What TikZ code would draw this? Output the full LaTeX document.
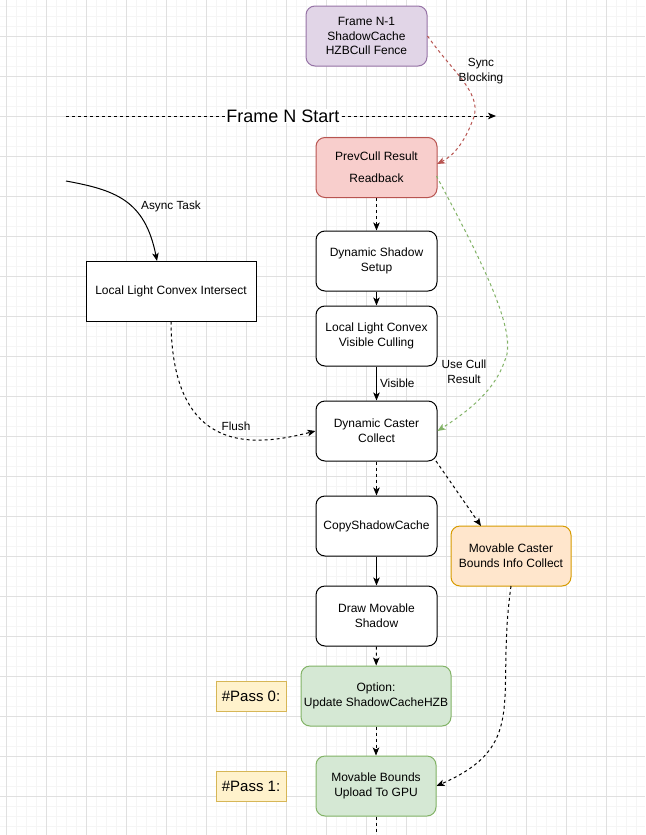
\documentclass[tikz,border=0pt]{standalone}
\usepackage{fontspec}
\setmainfont{Liberation Sans}
\usetikzlibrary{arrows.meta}
\definecolor{gridminor}{HTML}{F5F5F5}
\definecolor{gridmajor}{HTML}{E0E0E0}
\definecolor{purpfill}{HTML}{E1D5E7}
\definecolor{purpline}{HTML}{9673A6}
\definecolor{redfill}{HTML}{F8CECC}
\definecolor{redline}{HTML}{B85450}
\definecolor{greenfill}{HTML}{D5E8D4}
\definecolor{greenline}{HTML}{82B366}
\definecolor{orfill}{HTML}{FFE6CC}
\definecolor{orline}{HTML}{D79B00}
\definecolor{yelfill}{HTML}{FFF2CC}
\definecolor{yelline}{HTML}{D6B656}
\tikzset{
  box/.style={draw, line width=1pt, rounded corners=9pt, minimum width=121pt, minimum height=60pt,
    align=center, inner sep=0pt, font=\fontsize{12}{14.6}\selectfont, fill=white},
  sqbox/.style={box, rounded corners=0pt},
  passbox/.style={draw=yelline, fill=yelfill, line width=1pt, minimum width=70pt, minimum height=30pt,
    inner sep=0pt, font=\fontsize{15}{18}\selectfont},
  lbl/.style={align=center, inner sep=0pt, font=\fontsize{11.8}{15}\selectfont},
  arr/.style={line width=1pt, -{Stealth[length=8pt,width=6.5pt,inset=2pt]}},
  dsh/.style={dash pattern=on 3pt off 3pt},
}
\begin{document}
\begin{tikzpicture}[x=1pt,y=-1pt]
\useasboundingbox (0,0) rectangle (645,835);
\fill[white] (0,0) rectangle (645,835);
% grid
\foreach \x in {6,16,...,645} \draw[gridminor, line width=1pt] (\x,0) -- (\x,835);
\foreach \y in {6,16,...,835} \draw[gridminor, line width=1pt] (0,\y) -- (645,\y);
\foreach \x in {6,46,...,645} \draw[gridmajor, line width=1pt] (\x,0) -- (\x,835);
\foreach \y in {36,76,...,835} \draw[gridmajor, line width=1pt] (0,\y) -- (645,\y);

% frame start line
\coordinate (fsA) at (66,116);
\coordinate (fsB) at (496,116);
\draw[arr, dsh] (fsA) -- (fsB);
\node[fill=white, inner sep=1pt, font=\fontsize{18}{21}\selectfont] (fstart) at (283,116) {Frame N Start};

% nodes
\node[box, draw=purpline, fill=purpfill] (fn1) at (366.5,36) {Frame N-1\\ShadowCache\\HZBCull Fence};
\node[box, draw=redline, fill=redfill, font=\fontsize{12}{22}\selectfont] (prev) at (376.5,167.5) {PrevCull Result\\Readback};
\node[box] (setup) at (376.5,261) {Dynamic Shadow\\Setup};
\node[box] (cull) at (376.5,336) {Local Light Convex\\Visible Culling};
\node[box] (collect) at (376.5,431) {Dynamic Caster\\Collect};
\node[box] (copy) at (376.5,526) {CopyShadowCache};
\node[box] (drawms) at (376.5,616) {Draw Movable\\Shadow};
\node[box, draw=greenline, fill=greenfill, minimum width=150pt] (opt) at (376,696) {Option:\\Update ShadowCacheHZB};
\node[box, draw=greenline, fill=greenfill, minimum width=120pt] (bounds) at (376,786) {Movable Bounds\\Upload To GPU};
\node[box, draw=orline, fill=orfill, minimum width=120pt] (mcaster) at (511,556) {Movable Caster\\Bounds Info Collect};
\node[sqbox, minimum width=170pt] (llci) at (171,291) {Local Light Convex Intersect};
\node[passbox] (pass0) at (251,696) {\#Pass 0:};
\node[passbox] (pass1) at (251,786) {\#Pass 1:};

% connectors
\draw[arr, dsh, redline] (fn1.east) .. controls (455,75) and (485,95) .. (472,122)
   .. controls (465,140) and (455,155) .. (437,164);
\node[lbl] (syncl) at (481,71) {Sync\\Blocking};

\coordinate (prevg) at (436.5,176);
\draw[arr, dsh, greenline] (prevg) .. controls (470,240) and (520,330) .. (505,360)
   .. controls (495,390) and (470,410) .. (collect.east);
\node[lbl] (usel) at (464,372) {Use Cull\\Result};

\draw[arr, dsh] (prev) -- (setup);
\draw[arr] (setup) -- (cull);
\draw[arr] (cull) -- node[lbl, right=3pt] (visl) {Visible} (collect);

\coordinate (asyncS) at (66,181);
\coordinate (llcitop) at (157,261);
\draw[arr] (asyncS) .. controls (115,190) and (145,200) .. (llcitop);
\node[lbl] (asyncl) at (171,206) {Async Task};

\draw[arr, dsh] (llci.south) .. controls (172,460) and (260,445) .. (collect.west);
\node[lbl] (flushl) at (236,426) {Flush};

\draw[arr, dsh] (collect) -- (copy);
\coordinate (collectbr) at (436,461);
\coordinate (mctop) at (481,526);
\draw[arr, dsh] (collectbr) -- (mctop);
\draw[arr] (copy) -- (drawms);
\draw[arr, dsh] (drawms) -- (opt);
\draw[arr, dsh] (opt) -- (bounds);
\coordinate (mcbot) at (511,586);
\draw[arr, dsh] (mcbot) .. controls (495,700) and (530,745) .. (bounds.east);
\coordinate (bend) at (376,836);
\draw[line width=1pt, dsh] (bounds.south) -- (bend);
\end{tikzpicture}
\end{document}
